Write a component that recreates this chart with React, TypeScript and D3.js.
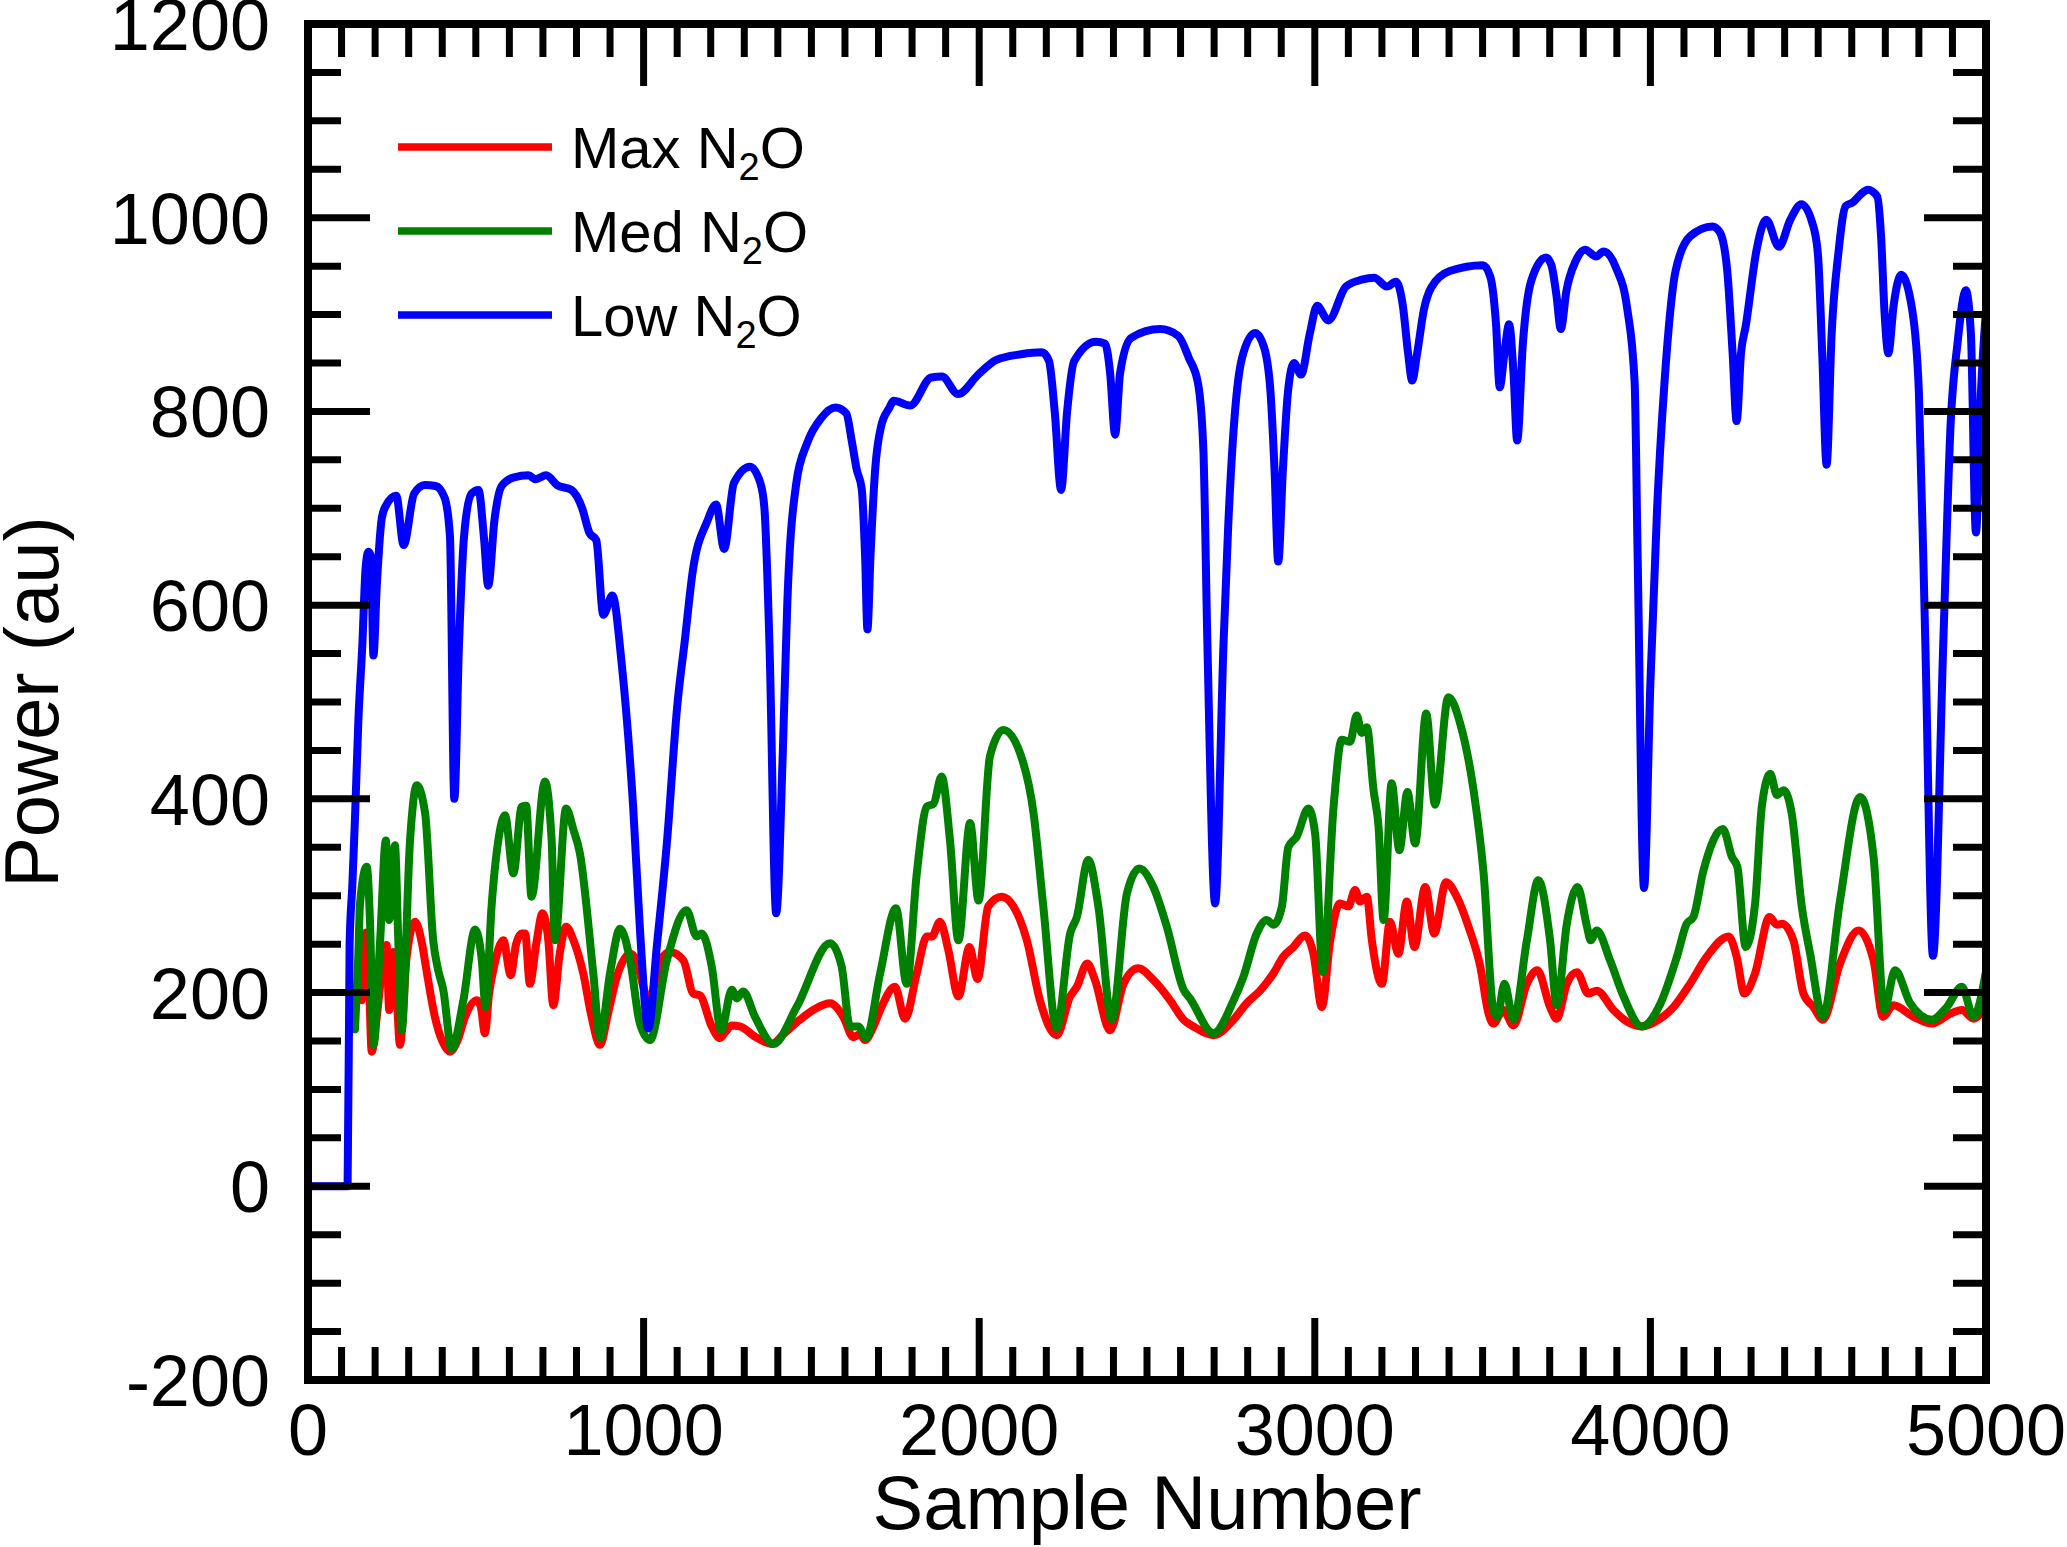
import React, { useEffect } from "react";
import * as d3 from "d3";

// ---- data ----
const lowX = [0,118,124,132,140,150,162,172,180,188,195,205,220,231,263,285,316,348,380,407,423,436,450,465,487,508,524,537,556,577,614,657,678,710,742,785,817,838,859,880,907,934,969,990,1014,1040,1070,1100,1123,1146,1189,1216,1240,1269,1317,1348,1360,1375,1395,1415,1428,1455,1487,1529,1572,1604,1620,1635,1650,1660,1667,1676,1690,1708,1731,1746,1794,1857,1889,1937,1997,2050,2125,2187,2208,2225,2244,2262,2283,2348,2375,2390,2405,2420,2453,2539,2593,2625,2652,2668,2680,2703,2728,2742,2760,2783,2822,2849,2868,2880,2891,2905,2920,2938,2959,2985,3007,3040,3093,3140,3177,3215,3242,3262,3278,3290,3305,3325,3347,3402,3501,3523,3540,3551,3565,3579,3592,3603,3620,3645,3689,3705,3720,3733,3750,3777,3805,3838,3860,3898,3931,3953,3962,3981,4000,4020,4042,4075,4119,4185,4207,4229,4245,4257,4270,4284,4317,4345,4383,4417,4450,4483,4499,4512,4525,4540,4560,4582,4604,4626,4648,4676,4687,4698,4709,4725,4747,4780,4800,4819,4842,4873,4895,4915,4940,4955,4970,4985,5000];
const lowY = [0,0,250,310,380,480,560,640,655,650,548,620,690,702,713,662,715,724,723,711,671,400,560,671,715,719,671,620,689,723,732,734,730,734,724,719,700,675,667,590,610,542,391,260,163,250,357,495,564,634,686,704,658,726,743,726,700,560,282,450,600,726,767,793,804,798,770,740,720,650,575,650,740,785,803,811,806,835,836,818,838,853,859,861,852,800,719,800,852,872,870,840,776,840,876,885,878,855,829,760,560,292,560,682,790,855,881,866,820,740,645,740,820,850,838,880,909,894,929,936,938,929,934,910,860,832,860,905,928,945,951,939,890,825,860,890,840,770,870,935,959,951,920,885,925,955,967,960,965,948,906,830,650,308,520,700,830,945,981,991,985,945,860,790,860,888,968,998,970,998,1014,994,963,860,745,880,963,1012,1016,1024,1029,1022,983,900,860,910,941,905,820,564,238,564,790,870,925,880,675,820,905];

const medX = [140,150,155,175,185,195,215,232,242,259,269,279,304,324,349,373,388,403,428,463,498,518,529,547,567,587,612,637,650,666,706,726,736,769,791,810,850,870,900,930,960,989,1019,1069,1128,1158,1173,1203,1231,1263,1278,1297,1332,1387,1456,1556,1590,1615,1640,1663,1705,1752,1784,1814,1844,1864,1888,1913,1938,1973,1998,2032,2072,2122,2162,2191,2231,2271,2291,2325,2355,2395,2440,2477,2519,2559,2609,2628,2698,2758,2787,2827,2857,2877,2902,2921,2946,2981,3001,3024,3056,3080,3105,3125,3140,3155,3175,3190,3205,3229,3252,3276,3299,3332,3358,3398,3433,3473,3503,3532,3544,3565,3592,3632,3666,3701,3721,3751,3783,3811,3822,3840,3880,3920,3974,4029,4079,4108,4128,4158,4216,4243,4259,4284,4312,4332,4357,4377,4397,4421,4451,4476,4514,4565,4625,4665,4697,4729,4774,4839,4883,4928,4963,5000];
const medY = [162,240,292,330,271,146,254,357,275,352,254,161,357,414,385,254,223,203,142,192,265,233,185,289,357,383,323,392,393,299,418,357,254,390,368,344,220,153,220,266,233,168,151,233,285,258,261,227,161,203,194,201,175,147,185,251,227,165,165,153,220,287,209,323,392,395,423,357,254,375,295,444,471,447,385,289,163,261,278,337,289,172,302,328,309,268,203,194,158,192,216,261,275,270,289,350,361,390,364,221,392,461,459,486,468,474,409,371,275,416,347,407,354,488,394,505,478,409,323,182,175,209,172,254,316,254,187,271,309,268,254,264,233,196,165,188,237,271,278,326,369,340,330,247,292,392,426,404,409,385,289,240,175,295,402,340,182,223,189,172,185,206,175,222];

const maxX = [140,160,172,180,190,205,219,234,242,254,264,274,294,319,340,353,378,400,423,445,468,503,515,527,540,552,582,604,620,637,647,661,680,699,716,731,750,769,791,820,845,870,895,920,960,979,1000,1017,1040,1060,1079,1119,1148,1168,1203,1228,1245,1263,1287,1330,1382,1420,1466,1510,1556,1595,1625,1645,1660,1685,1705,1749,1779,1814,1844,1859,1883,1908,1938,1971,1995,2027,2067,2102,2142,2181,2231,2271,2291,2322,2345,2390,2430,2474,2519,2569,2609,2638,2698,2758,2797,2837,2877,2906,2936,2971,2996,3021,3046,3075,3100,3120,3135,3155,3170,3200,3224,3249,3274,3297,3329,3356,3391,3423,3458,3493,3518,3532,3562,3592,3632,3663,3701,3721,3751,3781,3815,3840,3890,3930,3974,4029,4069,4118,4168,4233,4257,4280,4312,4355,4377,4392,4426,4456,4486,4514,4565,4620,4665,4693,4724,4784,4839,4893,4928,4963,5000];
const maxY = [205,192,262,230,139,175,220,249,182,242,200,146,237,273,250,223,175,150,139,150,175,192,185,158,200,223,254,218,250,261,261,209,250,282,254,187,240,268,254,220,175,146,180,216,240,233,205,190,220,238,242,233,199,197,165,153,160,166,165,155,147,158,172,183,189,175,154,157,151,165,182,206,173,220,258,258,273,244,196,247,214,289,299,289,254,192,156,196,206,230,213,161,209,225,213,192,172,165,156,172,189,202,220,237,247,259,240,185,254,292,289,306,294,299,254,209,273,240,294,247,309,261,314,299,268,227,178,168,182,166,209,223,185,173,209,221,199,202,182,170,165,173,185,209,237,258,237,199,220,278,270,271,254,199,185,172,230,264,233,175,187,175,168,178,182,173,188];

const seriesNames = ["Max", "Med", "Low"];
const seriesColors = ["#ff0000", "#008000", "#0000ff"];

const xMajorTicks = [0, 1000, 2000, 3000, 4000, 5000];
const yMajorTicks = [-200, 0, 200, 400, 600, 800, 1000, 1200];
const xMinorStep = 100;
const yMinorStep = 50;

const W = 2067;
const H = 1547;
const L = 308, R = 1986, T = 24, B = 1380;
const FONT = "'Liberation Sans', Arial, Helvetica, sans-serif";

export default function App() {
  useEffect(() => {
    document.body.style.margin = "0";
    document.body.style.overflow = "hidden";
  }, []);

  const x = d3.scaleLinear().domain([0, 5000]).range([L, R]);
  const y = d3.scaleLinear().domain([-200, 1200]).range([B, T]);

  const mk = (xs: number[], ys: number[]) =>
    d3.line<number>().x((_, i) => x(xs[i])).y((v) => y(v)).curve(d3.curveMonotoneX)(ys) || "";

  const paths = [mk(maxX, maxY), mk(medX, medY), mk(lowX, lowY)];

  const xMinor = d3.range(0, 5001, xMinorStep).filter((v) => v % 1000 !== 0);
  const yMinor = d3.range(-200, 1201, yMinorStep).filter((v) => v % 200 !== 0);
  const majLen = 62, minLen = 33, tw = 7;

  const ticks: JSX.Element[] = [];
  xMajorTicks.forEach((v, i) => {
    ticks.push(<line key={"xb" + i} x1={x(v)} x2={x(v)} y1={B} y2={B - majLen} />);
    ticks.push(<line key={"xt" + i} x1={x(v)} x2={x(v)} y1={T} y2={T + majLen} />);
  });
  xMinor.forEach((v, i) => {
    ticks.push(<line key={"xbm" + i} x1={x(v)} x2={x(v)} y1={B} y2={B - minLen} />);
    ticks.push(<line key={"xtm" + i} x1={x(v)} x2={x(v)} y1={T} y2={T + minLen} />);
  });
  yMajorTicks.forEach((v, i) => {
    ticks.push(<line key={"yl" + i} x1={L} x2={L + majLen} y1={y(v)} y2={y(v)} />);
    ticks.push(<line key={"yr" + i} x1={R} x2={R - majLen} y1={y(v)} y2={y(v)} />);
  });
  yMinor.forEach((v, i) => {
    ticks.push(<line key={"ylm" + i} x1={L} x2={L + minLen} y1={y(v)} y2={y(v)} />);
    ticks.push(<line key={"yrm" + i} x1={R} x2={R - minLen} y1={y(v)} y2={y(v)} />);
  });

  const legendY = [147, 231, 315];

  return (
    <svg width={W} height={H} style={{ position: "absolute", left: 0, top: 0, display: "block", background: "#fff" }}
      fontFamily={FONT}>
      <defs>
        <clipPath id="plotclip">
          <rect x={L} y={T} width={R - L} height={B - T} />
        </clipPath>
      </defs>
      <g clipPath="url(#plotclip)" fill="none" strokeWidth={8} strokeLinejoin="round" strokeLinecap="round">
        {paths.map((p, i) => (
          <path key={i} d={p} stroke={seriesColors[i]} />
        ))}
      </g>
      <g stroke="#000" strokeWidth={tw}>{ticks}</g>
      <rect x={L} y={T} width={R - L} height={B - T} fill="none" stroke="#000" strokeWidth={8} />
      {xMajorTicks.map((v) => (
        <text key={"xl" + v} x={x(v)} y={1455} fontSize={72} textAnchor="middle" fill="#000">{v}</text>
      ))}
      {yMajorTicks.map((v) => (
        <text key={"yl" + v} x={270} y={y(v) + 26} fontSize={72} textAnchor="end" fill="#000">{v}</text>
      ))}
      <text x={(L + R) / 2} y={1529} fontSize={76} textAnchor="middle" fill="#000">Sample Number</text>
      <text transform={`translate(58, ${(T + B) / 2}) rotate(-90)`} fontSize={76} textAnchor="middle" fill="#000">Power (au)</text>
      {seriesNames.map((n, i) => (
        <g key={"lg" + i}>
          <line x1={398} x2={552} y1={legendY[i]} y2={legendY[i]} stroke={seriesColors[i]} strokeWidth={7.5} />
          <text x={571} y={legendY[i] + 21} fontSize={58} fill="#000">
            {n} N<tspan fontSize={38} dy={12}>2</tspan><tspan dy={-12}>O</tspan>
          </text>
        </g>
      ))}
    </svg>
  );
}
